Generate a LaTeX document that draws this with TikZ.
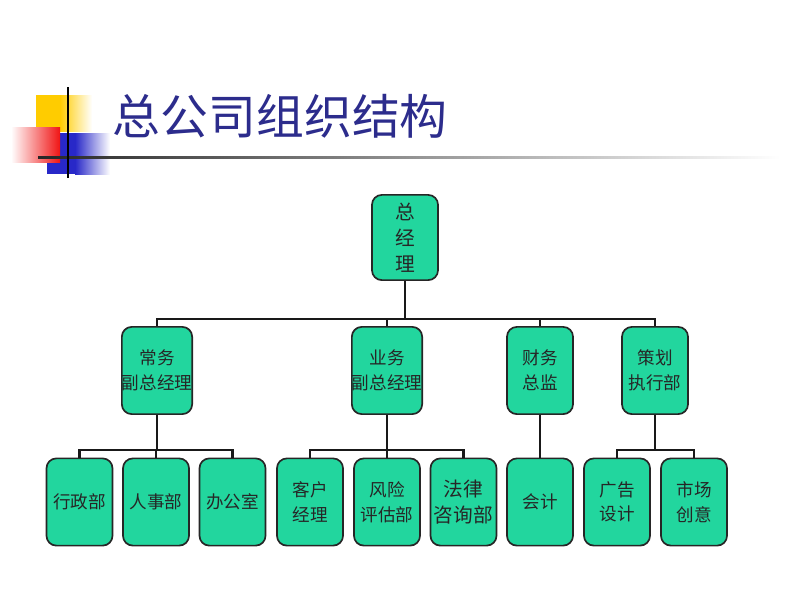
\documentclass[tikz,border=0pt]{standalone}
\usepackage{fontspec}
\newfontfamily\cjk{Noto Sans CJK SC}
\usepackage{tikz}
\usetikzlibrary{calc}

\definecolor{boxgreen}{RGB}{34,214,158}
\definecolor{titleblue}{RGB}{44,44,140}
\definecolor{decoyellow}{RGB}{255,204,0}
\definecolor{decored}{RGB}{240,20,20}
\definecolor{decoblue}{RGB}{40,40,200}

\tikzset{
  box/.style={draw=black!85, line width=1.2pt, fill=boxgreen, rounded corners=7pt,
    minimum width=1.65cm, minimum height=2.18cm, inner sep=0pt, align=center,
    text=black!85, font=\cjk\fontsize{12.5}{17.5}\selectfont},
  wire/.style={line width=1.8pt, black!90}
}

\begin{document}
\begin{tikzpicture}[x=0.025cm,y=-0.025cm]
\useasboundingbox (0,0) rectangle (800,600);
% title decoration
\fill[decoyellow] (36,95) rectangle (60,131);
\shade[left color=decoyellow, right color=white] (60,95) rectangle (92,131);
\fill[decoblue] (47,133) rectangle (75,174);
\shade[left color=decoblue, right color=white] (75,133) rectangle (110,174);
\shade[left color=white, right color=decored] (11,127) rectangle (60,162);
\shade[left color=black!85, right color=white] (38,156) rectangle (780,158.5);
\fill[black] (67,87) rectangle (69,178);
\node[text=titleblue, font=\cjk\fontsize{34}{40}\selectfont, anchor=west] (title) at (108,116) {总公司组织结构};

% boxes
\node[box, minimum height=2.13cm, font=\cjk\fontsize{14}{18.4}\selectfont] (gm) at (405,237.5) {总\\经\\理};
\node[box] (vp1) at (157,370.5) {常务\\副总经理};
\node[box] (vp2) at (387,370.5) {业务\\副总经理};
\node[box] (cfo) at (540,370.5) {财务\\总监};
\node[box] (plan) at (655,370.5) {策划\\执行部};

\node[box] (admin) at (79.5,502) {行政部};
\node[box] (hr) at (156,502) {人事部};
\node[box] (office) at (232.5,502) {办公室};
\node[box] (acct) at (310,502) {客户\\经理};
\node[box] (risk) at (387,502) {风险\\评估部};
\node[box, font=\cjk\fontsize{14}{19}\selectfont] (legal) at (463.5,502) {法律\\咨询部};
\node[box] (book) at (540,502) {会计};
\node[box] (ads) at (617,502) {广告\\设计};
\node[box] (mkt) at (694,502) {市场\\创意};

% lines
\draw[wire] (gm.south) -- ++(0,38) coordinate (bus1);
\draw[wire] (bus1) -| (vp1.north);
\draw[wire] (bus1) -| (vp2.north);
\draw[wire] (bus1) -| (cfo.north);
\draw[wire] (bus1) -| (plan.north);

\draw[wire] (vp1.south) -- ++(0,35) coordinate (bus2);
\draw[wire] (bus2) -| (admin.north);
\draw[wire] (bus2) -| (hr.north);
\draw[wire] (bus2) -| (office.north);

\draw[wire] (vp2.south) -- ++(0,35) coordinate (bus3);
\draw[wire] (bus3) -| (acct.north);
\draw[wire] (bus3) -| (risk.north);
\draw[wire] (bus3) -| (legal.north);

\draw[wire] (cfo.south) -- (book.north);

\draw[wire] (plan.south) -- ++(0,35) coordinate (bus4);
\draw[wire] (bus4) -| (ads.north);
\draw[wire] (bus4) -| (mkt.north);
\end{tikzpicture}
\end{document}
